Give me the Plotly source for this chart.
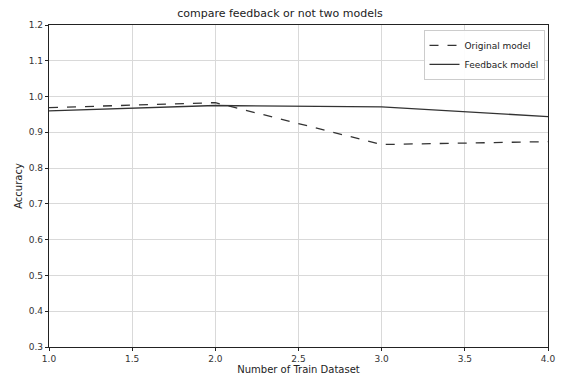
import plotly.graph_objects as go

x_vals = [1, 2, 3, 4]
original = [0.969, 0.983, 0.866, 0.874]
feedback = [0.960, 0.975, 0.971, 0.944]

W, H = 562, 379

fig = go.Figure()
fig.add_trace(go.Scatter(x=x_vals, y=original, mode="lines", name="Original model",
                         line=dict(color="#333333", width=1.3, dash="dash")))
fig.add_trace(go.Scatter(x=x_vals, y=feedback, mode="lines", name="Feedback model",
                         line=dict(color="#333333", width=1.3)))

axis_common = dict(showline=True, linecolor="#222222", linewidth=1.3, mirror=True,
                   showgrid=True, gridcolor="#d9d9d9", gridwidth=1,
                   ticks="outside", ticklen=3, tickcolor="#222222",
                   tickfont=dict(family="DejaVu Sans", size=9, color="#333333"),
                   zeroline=False, automargin=False)

fig.update_layout(
    width=W, height=H,
    margin=dict(l=49, r=14, t=25, b=32),
    paper_bgcolor="white", plot_bgcolor="white",
    title=dict(text="compare feedback or not two models", x=280 / W, xanchor="center",
               y=1 - 13 / H, yanchor="middle", automargin=False,
               font=dict(family="DejaVu Sans", size=11, color="#222222")),
    xaxis=dict(range=[1, 4], tickvals=[1, 1.5, 2, 2.5, 3, 3.5, 4],
               ticktext=["1.0", "1.5", "2.0", "2.5", "3.0", "3.5", "4.0"],
               title=dict(text="Number of Train Dataset", standoff=2,
                          font=dict(family="DejaVu Sans", size=10, color="#222222")),
               **axis_common),
    yaxis=dict(range=[0.3, 1.2], tickvals=[0.3, 0.4, 0.5, 0.6, 0.7, 0.8, 0.9, 1.0, 1.1, 1.2],
               ticktext=["0.3", "0.4", "0.5", "0.6", "0.7", "0.8", "0.9", "1.0", "1.1", "1.2"],
               title=dict(text="Accuracy", standoff=4,
                          font=dict(family="DejaVu Sans", size=10, color="#222222")),
               **axis_common),
    legend=dict(x=0.993, y=0.985, xanchor="right", yanchor="top",
                bgcolor="rgba(255,255,255,0.9)", bordercolor="#cccccc", borderwidth=1,
                font=dict(family="DejaVu Sans", size=9, color="#222222"),
                tracegroupgap=0, itemwidth=30),
    showlegend=True,
)

fig.write_html("out.html", config={"displayModeBar": False},
               post_script="document.body.style.margin='0';document.body.style.overflow='hidden';")
